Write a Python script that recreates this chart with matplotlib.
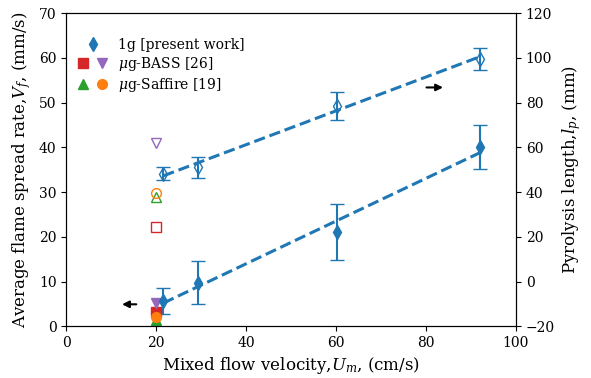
import numpy as np
import matplotlib.pyplot as plt
from matplotlib.legend_handler import HandlerTuple

plt.rcParams['font.family'] = 'DejaVu Serif'
plt.rcParams['mathtext.fontset'] = 'dejavuserif'

# 1g present work
u_m = [21.6, 29.4, 60.2, 92.0]
vf = [5.6, 9.7, 21.1, 40.1]
vf_err = [2.85, 4.8, 6.2, 4.85]
lp = [48.3, 51.0, 78.5, 99.7]
lp_err = [3.0, 4.8, 6.1, 4.9]

# microgravity data at 20 cm/s
ug_u = 20
bass_vf = [3.2, 5.2]      # square, triangle down
bass_lp = [24.4, 62.0]
saff_vf = [1.3, 2.1]      # triangle, circle
saff_lp = [37.6, 39.8]

fig, ax = plt.subplots(figsize=(5.91, 3.78), dpi=100)
ax2 = ax.twinx()

# left axis: spread rate (filled)
ax.errorbar(u_m, vf, yerr=vf_err, fmt='d', color='tab:blue', ms=7, capsize=5)
p = np.polyfit(u_m, vf, 1)
xf = np.array([u_m[0], u_m[-1]])
ax.plot(xf, np.polyval(p, xf), '--', color='tab:blue', lw=2.2)
h_sq, = ax.plot(ug_u, bass_vf[0], 's', color='tab:red', ms=7)
h_tv, = ax.plot(ug_u, bass_vf[1], 'v', color='tab:purple', ms=7)
h_tr, = ax.plot(ug_u, saff_vf[0], '^', color='tab:green', ms=7)
h_ci, = ax.plot(ug_u, saff_vf[1], 'o', color='tab:orange', ms=7)
h_d, = ax.plot([], [], 'd', color='tab:blue', ms=7)

# right axis: pyrolysis length (open)
ax2.errorbar(u_m, lp, yerr=lp_err, fmt='d', color='tab:blue', mfc='none', ms=7, capsize=5)
p2 = np.polyfit(u_m, lp, 1)
ax2.plot(xf, np.polyval(p2, xf), '--', color='tab:blue', lw=2.2)
ax2.plot(ug_u, bass_lp[0], 's', color='tab:red', mfc='none', ms=7)
ax2.plot(ug_u, bass_lp[1], 'v', color='tab:purple', mfc='none', ms=7)
ax2.plot(ug_u, saff_lp[0], '^', color='tab:green', mfc='none', ms=7)
ax2.plot(ug_u, saff_lp[1], 'o', color='tab:orange', mfc='none', ms=7)

# arrows
ax.annotate('', xy=(11.8, 4.9), xytext=(16.2, 4.9),
            arrowprops=dict(arrowstyle='-|>', color='k', lw=1.5, mutation_scale=10))
ax.annotate('', xy=(84.4, 53.4), xytext=(79.5, 53.4),
            arrowprops=dict(arrowstyle='-|>', color='k', lw=1.5, mutation_scale=10))

ax.set_xlim(0, 100)
ax.set_ylim(0, 70)
ax2.set_ylim(-20, 120)
ax.set_xticks(np.arange(0, 101, 20))
ax.set_yticks(np.arange(0, 71, 10))
ax2.set_yticks(np.arange(-20, 121, 20))

ax.set_xlabel('Mixed flow velocity,$U_m$, (cm/s)', fontsize=12)
ax.set_ylabel('Average flame spread rate,$V_f$, (mm/s)', fontsize=12)
ax2.set_ylabel('Pyrolysis length,$l_p$, (mm)', fontsize=12)

ax.legend([h_d, (h_sq, h_tv), (h_tr, h_ci)],
          ['1g [present work]', r'$\mu$g-BASS [26]', r'$\mu$g-Saffire [19]'],
          handler_map={tuple: HandlerTuple(ndivide=None, pad=0.8)},
          loc='upper left', bbox_to_anchor=(0.0, 0.96), frameon=False,
          fontsize=10, labelspacing=0.2)

plt.subplots_adjust(left=0.112, right=0.873, top=0.965, bottom=0.137)
plt.savefig('out.png')
